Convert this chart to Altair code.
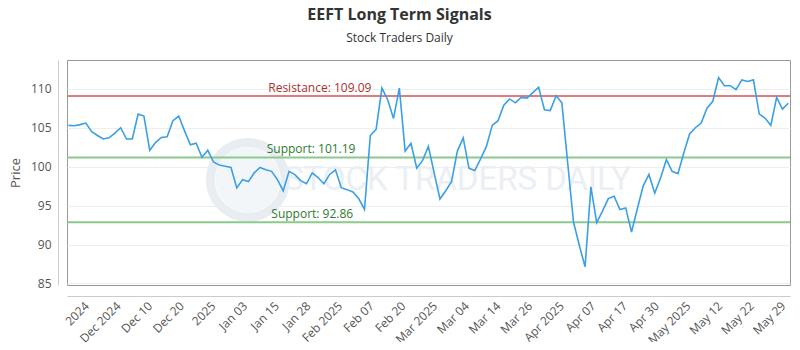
import altair as alt
import pandas as pd

# ---- data ----
prices = [
    105.3, 105.25, 105.4, 105.6, 104.5, 104.0, 103.55, 103.7, 104.3, 105.0,
    103.55, 103.55, 106.75, 106.5, 102.1, 103.1, 103.75, 103.85, 105.9, 106.5,
    104.6, 102.8, 103.0, 101.2, 102.1, 100.6, 100.2, 100.05, 99.9, 97.27,
    98.33, 98.08, 99.2, 99.9, 99.6, 99.4, 98.33, 96.9, 99.4, 98.97,
    98.2, 97.8, 99.2, 98.6, 97.8, 99.0, 99.6, 97.3, 97.05, 96.75,
    95.9, 94.5, 104.0, 104.8, 110.1, 108.6, 106.2, 110.1, 102.0, 103.0,
    99.8, 100.8, 102.6, 99.2, 95.85, 96.9, 98.1, 102.0, 103.7, 99.8,
    99.5, 101.0, 102.6, 105.3, 105.9, 107.9, 108.7, 108.2, 108.9, 108.8,
    109.5, 110.2, 107.3, 107.2, 109.1, 108.2, 100.5, 92.9, 89.9, 87.15,
    97.4, 92.8, 94.3, 95.9, 96.2, 94.5, 94.7, 91.6, 94.6, 97.5,
    99.0, 96.6, 98.55, 100.9, 99.4, 99.1, 101.75, 104.2, 105.0, 105.6,
    107.5, 108.4, 111.45, 110.4, 110.4, 109.9, 111.15, 110.95, 111.15, 106.75,
    106.25, 105.3, 108.9, 107.4, 108.15,
]

x_labels = [
    "2024", "Dec 2024", "Dec 10", "Dec 20", "2025", "Jan 03", "Jan 15",
    "Jan 28", "Feb 2025", "Feb 07", "Feb 20", "Mar 2025", "Mar 04", "Mar 14",
    "Mar 26", "Apr 2025", "Apr 07", "Apr 17", "Apr 30", "May 2025", "May 12",
    "May 22", "May 29",
]

level_names = ["Resistance", "Support", "Support"]
level_values = [109.09, 101.19, 92.86]
level_line_colors = ["#e37b7b", "#8cc98c", "#8cc98c"]
level_text_colors = ["#a83232", "#2f7a2f", "#2f7a2f"]
level_label_pos = [43.3, 41.8, 42.0]

y_ticks = [85, 90, 95, 100, 105, 110]

FONT = "Open Sans"

df = pd.DataFrame({"idx": list(range(len(prices))), "price": prices})
levels = pd.DataFrame({
    "value": level_values,
    "label": [f"{n}: {v:.2f}" for n, v in zip(level_names, level_values)],
    "line_color": level_line_colors,
    "text_color": level_text_colors,
    "lx": level_label_pos,
})
wm = pd.DataFrame({"x": [67.0], "y": [98.3], "t": ["STOCK TRADERS DAILY"]})
wm_logo = pd.DataFrame({"x": [30.9], "y": [98.3]})

t0, t1 = 2.5, 122.5
step = (t1 - t0) / (len(x_labels) - 1)
tick_vals = [t0 + step * k for k in range(len(x_labels))]
label_js = "[" + ",".join("'" + s + "'" for s in x_labels) + "]"
label_expr = f"{label_js}[round((datum.value - {t0}) / {step})]"

x_scale = alt.Scale(domain=[-0.25, 124.3], nice=False, zero=False)
y_scale = alt.Scale(domain=[84.8, 113.7], nice=False, zero=False)

x_axis = alt.Axis(
    values=tick_vals, labelExpr=label_expr, labelAngle=-45, labelAlign="right",
    labelBaseline="top", grid=False, ticks=False, offset=11, domainColor="#cccccc",
    title=None, labelColor="#555555", labelFontSize=12, labelFont=FONT,
    labelPadding=4, labelOverlap=False, labelFlush=False, labelBound=False,
)
y_axis = alt.Axis(
    values=y_ticks, grid=True, gridColor="#eeeeee", ticks=False, offset=9,
    domainColor="#cccccc", title="Price", titleFont=FONT, titleFontSize=13,
    titleFontWeight="normal", titleColor="#555555", titlePadding=8,
    labelColor="#555555", labelFontSize=12, labelFont=FONT, labelPadding=7,
    labelOverlap=False,
)


def X(field):
    return alt.X(field, scale=x_scale, axis=x_axis)


def Y(field):
    return alt.Y(field, scale=y_scale, axis=y_axis)


logo_fill = alt.Chart(wm_logo).mark_point(
    shape="circle", filled=True, size=4200, color="#f3f6f9", opacity=1
).encode(x=X("x:Q"), y=Y("y:Q"))

logo = alt.Chart(wm_logo).mark_point(
    shape="circle", filled=False, size=5600, strokeWidth=9, color="#e8edf2", opacity=1
).encode(x=X("x:Q"), y=Y("y:Q"))

wm_text = alt.Chart(wm).mark_text(
    font="Liberation Sans Narrow, Roboto", fontSize=33, color="#ebeff4"
).encode(x=X("x:Q"), y=Y("y:Q"), text="t:N")

rules = alt.Chart(levels).mark_rule(strokeWidth=2).encode(
    y=Y("value:Q"),
    color=alt.Color("line_color:N", scale=None),
)

rule_text = alt.Chart(levels).mark_text(
    font=FONT, fontSize=12, dy=-8
).encode(
    x=X("lx:Q"),
    y=Y("value:Q"),
    text="label:N",
    color=alt.Color("text_color:N", scale=None),
)

line = alt.Chart(df).mark_line(color="#3a9fe4", strokeWidth=1.6).encode(
    x=X("idx:Q"),
    y=Y("price:Q"),
)

chart = alt.layer(logo_fill, logo, wm_text, rules, rule_text, line).properties(
    width=723,
    height=225,
    autosize=alt.AutoSizeParams(type="none"),
    padding={"left": 59, "top": 52, "right": 2, "bottom": 57},
    title=alt.Title(
        "EEFT Long Term Signals", subtitle="Stock Traders Daily",
        font=FONT, fontSize=16, fontWeight="bold", color="#333333",
        subtitleFont=FONT, subtitleFontSize=12, subtitleColor="#333333",
        anchor="middle", dx=-29, offset=16, subtitlePadding=10,
    ),
).configure_view(stroke="#999999", strokeWidth=1).configure_axis(labelOverlap=False)

chart.save("out.html", embed_options={"renderer": "svg", "actions": False})
